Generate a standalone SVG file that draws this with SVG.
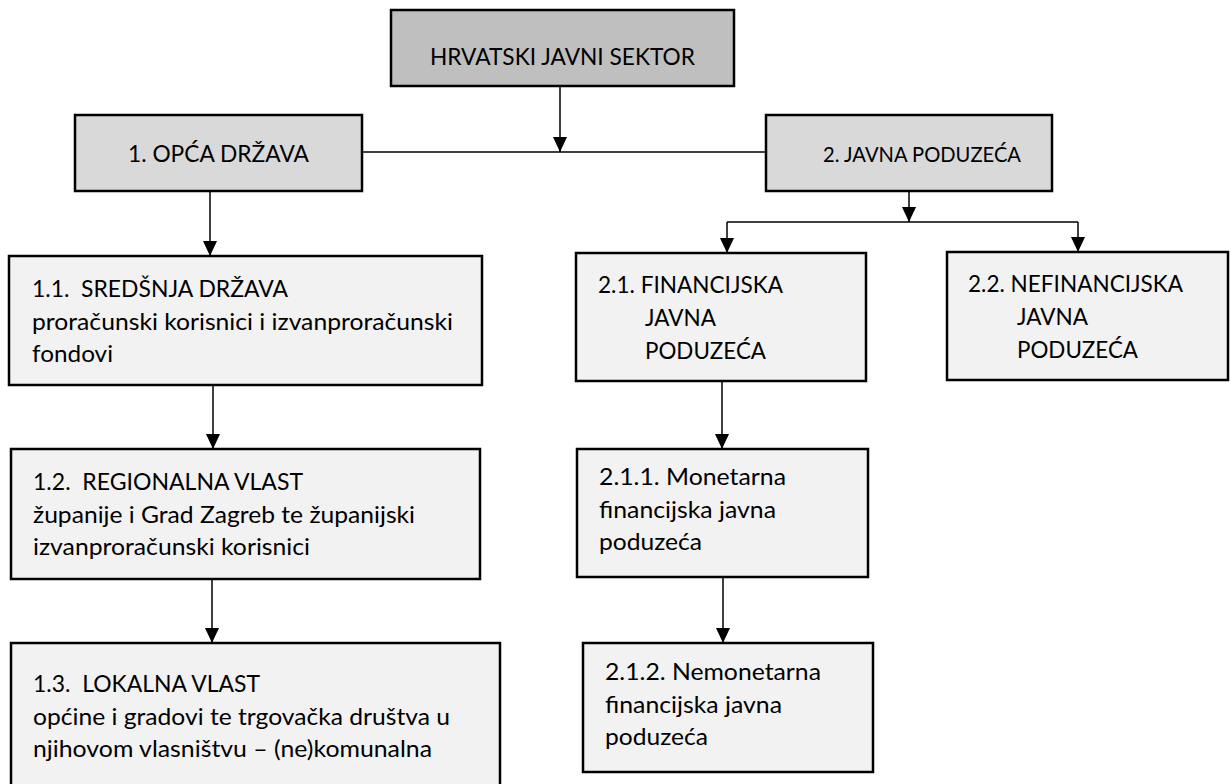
<svg xmlns="http://www.w3.org/2000/svg" width="1232" height="784" viewBox="0 0 1232 784">
<defs>
<style>
.box{stroke:#000;stroke-width:2.5}
.top{fill:#bfbfbf}
.l1{fill:#d9d9d9}
.l2{fill:#f2f2f2}
text{font-family:Lato,"Liberation Sans",Arial,sans-serif;font-size:24px;fill:#000}
.sm{font-size:22px}
.conn{fill:none;stroke:#000;stroke-width:1.5}
</style>
<marker id="arr" viewBox="0 0 15 14" refX="15" refY="7" markerWidth="15" markerHeight="14" markerUnits="userSpaceOnUse" orient="auto">
<path d="M0,0 L15,7 L0,14 z" fill="#000"/>
</marker>
</defs>
<rect width="1232" height="784" fill="#fff"/>
<g id="connectors">
<path class="conn" d="M560,86 V152" marker-end="url(#arr)"/>
<path class="conn" d="M362,152 H766"/>
<path class="conn" d="M210,191 V256" marker-end="url(#arr)"/>
<path class="conn" d="M909,191 V222" marker-end="url(#arr)"/>
<path class="conn" d="M727,222 H1078"/>
<path class="conn" d="M727,222 V253" marker-end="url(#arr)"/>
<path class="conn" d="M1078,222 V252" marker-end="url(#arr)"/>
<path class="conn" d="M213,385 V449" marker-end="url(#arr)"/>
<path class="conn" d="M212,579 V643" marker-end="url(#arr)"/>
<path class="conn" d="M722,381 V449" marker-end="url(#arr)"/>
<path class="conn" d="M723,577 V643" marker-end="url(#arr)"/>
</g>
<g id="n0">
<rect class="box top" x="391" y="10" width="343" height="76"/>
<text x="430" y="65" textLength="265" lengthAdjust="spacingAndGlyphs">HRVATSKI JAVNI SEKTOR</text>
</g>
<g id="n1">
<rect class="box l1" x="75" y="115" width="287" height="76"/>
<text x="128" y="162" textLength="181" lengthAdjust="spacingAndGlyphs">1. OPĆA DRŽAVA</text>
</g>
<g id="n2">
<rect class="box l1" x="766" y="115" width="286" height="76"/>
<text class="sm" x="823" y="162" textLength="198" lengthAdjust="spacingAndGlyphs">2. JAVNA PODUZEĆA</text>
</g>
<g id="n11">
<rect class="box l2" x="9" y="256" width="473" height="129"/>
<text x="32" y="297" xml:space="preserve" textLength="256" lengthAdjust="spacingAndGlyphs">1.1.  SREDŠNJA DRŽAVA</text>
<text x="32" y="330" textLength="421" lengthAdjust="spacingAndGlyphs">proračunski korisnici i izvanproračunski</text>
<text x="32" y="362" textLength="81" lengthAdjust="spacingAndGlyphs">fondovi</text>
</g>
<g id="n12">
<rect class="box l2" x="11" y="449" width="469" height="130"/>
<text x="33" y="490" xml:space="preserve" textLength="270" lengthAdjust="spacingAndGlyphs">1.2.  REGIONALNA VLAST</text>
<text x="33" y="523" textLength="382" lengthAdjust="spacingAndGlyphs">županije i Grad Zagreb te županijski</text>
<text x="33" y="555" textLength="277" lengthAdjust="spacingAndGlyphs">izvanproračunski korisnici</text>
</g>
<g id="n13">
<rect class="box l2" x="11" y="643" width="489" height="150"/>
<text x="33" y="692" xml:space="preserve" textLength="227" lengthAdjust="spacingAndGlyphs">1.3.  LOKALNA VLAST</text>
<text x="33" y="725" textLength="417" lengthAdjust="spacingAndGlyphs">općine i gradovi te trgovačka društva u</text>
<text x="33" y="757" textLength="399" lengthAdjust="spacingAndGlyphs">njihovom vlasništvu – (ne)komunalna</text>
</g>
<g id="n21">
<rect class="box l2" x="576" y="253" width="290" height="128"/>
<text x="598" y="293" textLength="185" lengthAdjust="spacingAndGlyphs">2.1. FINANCIJSKA</text>
<text x="645" y="326" textLength="71" lengthAdjust="spacingAndGlyphs">JAVNA</text>
<text x="645" y="359" textLength="121" lengthAdjust="spacingAndGlyphs">PODUZEĆA</text>
</g>
<g id="n22">
<rect class="box l2" x="947" y="252" width="281" height="128"/>
<text x="968" y="292" textLength="215" lengthAdjust="spacingAndGlyphs">2.2. NEFINANCIJSKA</text>
<text x="1017" y="325" textLength="71" lengthAdjust="spacingAndGlyphs">JAVNA</text>
<text x="1017" y="358" textLength="121" lengthAdjust="spacingAndGlyphs">PODUZEĆA</text>
</g>
<g id="n211">
<rect class="box l2" x="577" y="449" width="291" height="128"/>
<text x="599" y="485" textLength="187" lengthAdjust="spacingAndGlyphs">2.1.1. Monetarna</text>
<text x="599" y="518" textLength="177" lengthAdjust="spacingAndGlyphs">financijska javna</text>
<text x="599" y="550" textLength="103" lengthAdjust="spacingAndGlyphs">poduzeća</text>
</g>
<g id="n212">
<rect class="box l2" x="583" y="643" width="290" height="129"/>
<text x="605" y="680" textLength="216" lengthAdjust="spacingAndGlyphs">2.1.2. Nemonetarna</text>
<text x="605" y="713" textLength="177" lengthAdjust="spacingAndGlyphs">financijska javna</text>
<text x="605" y="745" textLength="103" lengthAdjust="spacingAndGlyphs">poduzeća</text>
</g>
</svg>
